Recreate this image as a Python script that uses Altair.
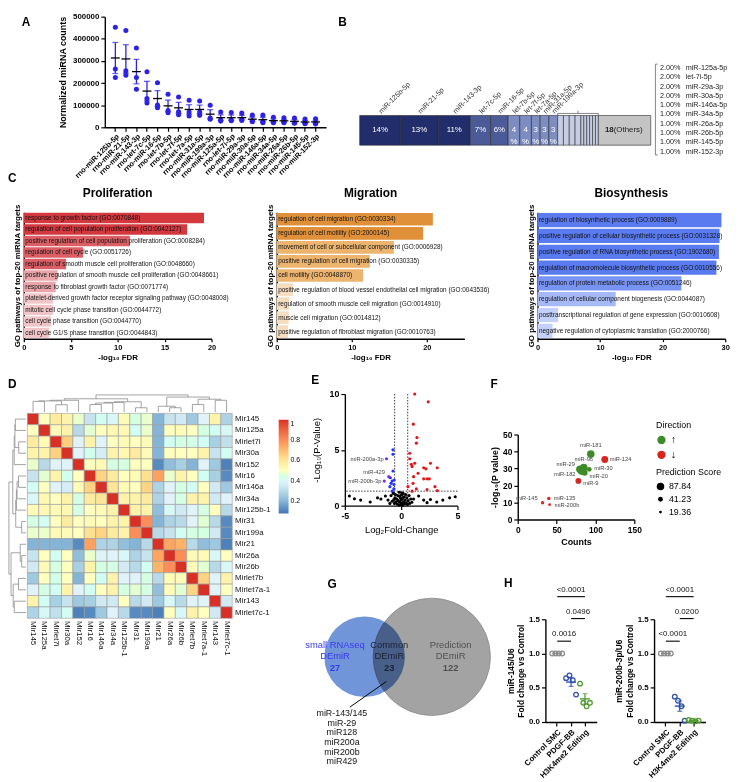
import math
import altair as alt
import numpy as np
import pandas as pd

FONT = "Liberation Sans"

# ---------------- Panel A data ----------------
a_mirs = ["rno-miR-125b-5p", "rno-miR-21-5p", "rno-miR-143-3p", "rno-let-7c-5p", "rno-miR-16-5p",
          "rno-let-7b-5p", "rno-let-7f-5p", "rno-let-7a-5p", "rno-miR-31a-5p", "rno-miR-199a-3p",
          "rno-miR-125a-5p", "rno-let-7i-5p", "rno-miR-29a-3p", "rno-miR-30a-5p", "rno-miR-146a-5p",
          "rno-miR-34a-5p", "rno-miR-26a-5p", "rno-miR-26b-5p", "rno-miR-145-5p", "rno-miR-152-3p"]
a_rep1 = [452000, 437000, 358000, 251000, 201000, 149000, 137000, 122000, 119000, 100000,
          69000, 67000, 64000, 55000, 55000, 45000, 43000, 42000, 37000, 39000]
a_rep2 = [263000, 255000, 225000, 130000, 101000, 76000, 70000, 69000, 69000, 42000,
          34000, 33000, 36000, 30000, 27000, 24000, 24000, 21000, 19000, 19000]
a_rep3 = [225000, 235000, 172000, 110000, 88000, 66000, 57000, 51000, 54000, 36000,
          28000, 30000, 31000, 25000, 21000, 21000, 21000, 18000, 16000, 15000]

# ---------------- Panel B data ----------------
b_top_names = ["miR-125b-5p", "miR-21-5p", "miR-143-3p", "let-7c-5p", "miR-16-5p",
               "let-7b-5p", "let-7f-5p", "let-7a-5p", "miR-31a-5p", "miR-199a-3p"]
b_top_pct = [14, 13, 11, 7, 6, 4, 4, 3, 3, 3]
b_small_names = ["miR-125a-5p", "let-7i-5p", "miR-29a-3p", "miR-30a-5p", "miR-146a-5p",
                 "miR-34a-5p", "miR-26a-5p", "miR-26b-5p", "miR-145-5p", "miR-152-3p"]
b_small_pct = [2, 2, 2, 2, 1, 1, 1, 1, 1, 1]
b_others_count = 18
b_others_pct = 18

# ---------------- Panel C data ----------------
c_prolif_terms = ["response to growth factor (GO:0070848)",
                  "regulation of cell population proliferation (GO:0042127)",
                  "positive regulation of cell population proliferation (GO:0008284)",
                  "regulation of cell cycle (GO:0051726)",
                  "regulation of smooth muscle cell proliferation (GO:0048660)",
                  "positive regulation of smooth muscle cell proliferation (GO:0048661)",
                  "response to fibroblast growth factor (GO:0071774)",
                  "platelet-derived growth factor receptor signaling pathway (GO:0048008)",
                  "mitotic cell cycle phase transition (GO:0044772)",
                  "cell cycle phase transition (GO:0044770)",
                  "cell cycle G1/S phase transition (GO:0044843)"]
c_prolif_vals = [19.2, 17.4, 11.3, 6.3, 4.5, 3.6, 3.4, 3.1, 3.1, 2.9, 2.7]
c_migr_terms = ["regulation of cell migration (GO:0030334)",
                "regulation of cell motility (GO:2000145)",
                "movement of cell or subcellular component (GO:0006928)",
                "positive regulation of cell migration (GO:0030335)",
                "cell motility (GO:0048870)",
                "positive regulation of blood vessel endothelial cell migration (GO:0043536)",
                "regulation of smooth muscle cell migration (GO:0014910)",
                "muscle cell migration (GO:0014812)",
                "positive regulation of fibroblast migration (GO:0010763)"]
c_migr_vals = [20.8, 19.5, 15.6, 12.4, 11.5, 2.2, 1.7, 1.6, 1.5]
c_bio_terms = ["regulation of biosynthetic process (GO:0009889)",
               "positive regulation of cellular biosynthetic process (GO:0031328)",
               "positive regulation of RNA biosynthetic process (GO:1902680)",
               "regulation of macromolecule biosynthetic process (GO:0010556)",
               "regulation of protein metabolic process (GO:0051246)",
               "regulation of cellular component biogenesis (GO:0044087)",
               "posttranscriptional regulation of gene expression (GO:0010608)",
               "negative regulation of cytoplasmic translation (GO:2000766)"]
c_bio_vals = [29.4, 29.1, 29.0, 28.6, 23.0, 12.5, 3.3, 2.4]

# ---------------- Panel D data ----------------
d_names = ["Mir145", "Mir125a", "Mirlet7i", "Mir30a", "Mir152", "Mir16", "Mir146a", "Mir34a",
           "Mir125b-1", "Mir31", "Mir199a", "Mir21", "Mir26a", "Mir26b", "Mirlet7b",
           "Mirlet7a-1", "Mir143", "Mirlet7c-1"]
d_corr = [
    [1, 0.5, 0.58, 0.55, 0.48, 0.33, 0.42, 0.4, 0.52, 0.45, 0.48, 0.2, 0.33, 0.35, 0.25, 0.38, 0.55, 0.28],
    [0.5, 1, 0.52, 0.55, 0.3, 0.47, 0.5, 0.53, 0.53, 0.42, 0.48, 0.2, 0.5, 0.52, 0.5, 0.45, 0.42, 0.4],
    [0.58, 0.52, 1, 0.66, 0.38, 0.55, 0.38, 0.5, 0.52, 0.5, 0.52, 0.2, 0.42, 0.45, 0.44, 0.42, 0.27, 0.32],
    [0.55, 0.55, 0.66, 1, 0.38, 0.43, 0.36, 0.55, 0.53, 0.58, 0.52, 0.2, 0.5, 0.5, 0.5, 0.55, 0.33, 0.42],
    [0.48, 0.3, 0.38, 0.38, 1, 0.5, 0.52, 0.45, 0.45, 0.5, 0.5, 0.12, 0.22, 0.27, 0.2, 0.38, 0.25, 0.1],
    [0.33, 0.47, 0.55, 0.43, 0.5, 1, 0.65, 0.58, 0.5, 0.52, 0.62, 0.76, 0.48, 0.55, 0.5, 0.42, 0.27, 0.12],
    [0.42, 0.5, 0.38, 0.36, 0.52, 0.65, 1, 0.6, 0.52, 0.5, 0.65, 0.28, 0.38, 0.45, 0.42, 0.5, 0.35, 0.25],
    [0.4, 0.53, 0.5, 0.55, 0.45, 0.58, 0.6, 1, 0.55, 0.55, 0.58, 0.28, 0.38, 0.45, 0.55, 0.55, 0.35, 0.38],
    [0.52, 0.53, 0.52, 0.53, 0.45, 0.5, 0.52, 0.55, 1, 0.55, 0.55, 0.22, 0.4, 0.35, 0.38, 0.45, 0.5, 0.3],
    [0.45, 0.42, 0.5, 0.58, 0.5, 0.52, 0.5, 0.55, 0.55, 1, 0.8, 0.2, 0.28, 0.3, 0.38, 0.47, 0.3, 0.12],
    [0.48, 0.48, 0.52, 0.52, 0.5, 0.62, 0.65, 0.58, 0.55, 0.8, 1, 0.3, 0.33, 0.42, 0.45, 0.45, 0.35, 0.12],
    [0.2, 0.2, 0.2, 0.2, 0.12, 0.76, 0.28, 0.28, 0.22, 0.2, 0.3, 1, 0.75, 0.72, 0.3, 0.22, 0.25, 0.1],
    [0.33, 0.5, 0.42, 0.5, 0.22, 0.48, 0.38, 0.38, 0.4, 0.28, 0.33, 0.75, 1, 0.8, 0.52, 0.52, 0.4, 0.5],
    [0.35, 0.52, 0.45, 0.5, 0.27, 0.55, 0.45, 0.45, 0.35, 0.3, 0.42, 0.72, 0.8, 1, 0.52, 0.47, 0.3, 0.4],
    [0.25, 0.5, 0.44, 0.5, 0.2, 0.5, 0.42, 0.55, 0.38, 0.38, 0.45, 0.3, 0.52, 0.52, 1, 0.65, 0.38, 0.55],
    [0.38, 0.45, 0.42, 0.55, 0.38, 0.42, 0.5, 0.55, 0.45, 0.47, 0.45, 0.22, 0.52, 0.47, 0.65, 1, 0.38, 0.5],
    [0.55, 0.42, 0.27, 0.33, 0.25, 0.27, 0.35, 0.35, 0.5, 0.3, 0.35, 0.25, 0.4, 0.3, 0.38, 0.38, 1, 0.35],
    [0.28, 0.4, 0.32, 0.42, 0.1, 0.12, 0.25, 0.38, 0.3, 0.12, 0.12, 0.1, 0.5, 0.4, 0.55, 0.5, 0.35, 1],
]
# dendrogram: (height, left, right), leaves are row indices
d_tree = (0.8,
          (0.62,
           (0.55, (0.52, (0.5, 0, 1), (0.34, 2, 3)), 4),
           (0.48, (0.45, (0.42, (0.35, 5, 6), 7), 8), (0.2, 9, 10))),
          (0.7,
           (0.27, 11, (0.2, 12, 13)),
           (0.6, (0.35, 14, 15), (0.55, 16, 17))))

# ---------------- Panel E data ----------------
e_up = [(1.2, 10.0), (2.4, 9.3), (1.08, 7.3), (1.4, 6.1), (1.35, 5.6), (0.76, 4.7), (0.76, 4.2),
        (2.6, 3.8), (0.9, 3.7), (1.2, 3.8), (0.97, 3.5), (2.0, 3.4), (2.2, 3.3), (3.2, 3.4),
        (1.5, 2.9), (2.0, 2.4), (2.3, 2.4), (2.5, 2.4), (1.05, 2.0), (1.1, 2.6), (0.6, 1.7),
        (1.35, 1.5), (3.0, 1.7), (2.3, 1.45), (3.2, 1.35), (0.97, 1.3)]
e_down = [(-0.73, 5.0), (-0.73, 4.6), (-0.73, 3.1), (-0.96, 2.5), (-0.8, 2.2), (-0.62, 2.3),
          (-0.65, 1.9), (-1.0, 1.7), (-0.65, 1.5), (-0.8, 1.3), (-0.9, 2.0)]
e_labeled = [("miR-200a-3p", -1.3, 4.2), ("miR-429", -1.1, 2.6), ("miR-200b-3p", -1.5, 2.2)]
e_ns = [(-4.6, 0.86), (-4.15, 0.62), (-3.6, 0.5), (-2.75, 0.33), (-2.1, 0.7), (-1.8, 0.6),
        (-1.4, 0.86), (-1.17, 0.5), (1.1, 0.6), (1.55, 0.86), (2.0, 0.5), (2.6, 0.55),
        (3.16, 0.33), (3.7, 0.5), (4.3, 0.7), (4.8, 0.8), (2.3, 0.27), (-0.9, 0.9), (-0.8, 0.4),
        (-0.7, 1.1), (-0.6, 0.2), (-0.55, 0.7), (-0.5, 1.0), (-0.45, 0.35), (-0.4, 0.6),
        (-0.35, 0.15), (-0.3, 0.9), (-0.25, 0.45), (-0.2, 0.05), (-0.18, 1.2), (-0.12, 0.3),
        (-0.08, 0.7), (-0.05, 0.1), (0.0, 0.5), (0.03, 0.95), (0.06, 0.2), (0.1, 0.6),
        (0.14, 0.05), (0.18, 1.1), (0.22, 0.35), (0.27, 0.8), (0.3, 0.15), (0.35, 0.5),
        (0.4, 1.0), (0.45, 0.25), (0.5, 0.7), (0.55, 0.1), (0.62, 0.45), (0.7, 0.9),
        (0.75, 0.2), (0.85, 0.6), (0.95, 0.3), (-1.0, 0.2), (-0.65, 0.55), (0.2, 0.75),
        (-0.15, 0.85), (0.05, 1.15)]
e_fc_cut = [-0.58, 0.58]
e_p_cut = 1.3

# ---------------- Panel F data ----------------
f_mirs = ["miR-181", "miR-124", "miR-96", "miR-29", "miR-182", "miR-30", "miR-20", "miR-9",
          "miR-145", "miR-135", "miR-200b"]
f_counts = [94, 112, 85, 80, 82, 92, 86, 78, 32, 40, 41]
f_logp = [38.5, 35.3, 30.6, 29.5, 28.5, 29.5, 27.5, 22.7, 9.9, 12.4, 8.7]
f_dir = ["up", "down", "up", "up", "up", "up", "up", "down", "down", "down", "down"]
f_score = [87.84, 75.0, 87.84, 87.84, 87.84, 41.23, 60.0, 55.0, 25.0, 25.0, 19.36]
f_legend_scores = [87.84, 41.23, 19.36]

# ---------------- Panel G data ----------------
g_set_titles = ["small RNAseq", "Common", "Prediction"]
g_counts = [27, 23, 122]
g_common_list = ["miR-143/145", "miR-29", "miR128", "miR200a", "miR200b", "miR429"]

# ---------------- Panel H data ----------------
h_groups = ["Control SMC", "PDGF-BB", "H3K4me2 Editing"]
h1_vals = [[1.0, 1.0, 1.0, 1.0], [0.64, 0.68, 0.61, 0.40], [0.56, 0.28, 0.23, 0.28]]
h2_vals = [[1.0, 1.0, 1.0, 1.0], [0.37, 0.31, 0.23, 0.02], [0.03, 0.02, 0.01, 0.02]]
h1_p = ["<0.0001", "0.0496", "0.0016"]
h2_p = ["<0.0001", "0.0200", "<0.0001"]


# ================= helpers =================
def left_letter(t, offset):
    return alt.TitleParams(t, orient="left", anchor="end", angle=0, baseline="top", align="right",
                           offset=offset, fontSize=12, fontWeight="bold", frame="group")


def top_letter(t, dx=0, offset=3):
    return alt.TitleParams(t, anchor="start", frame="bounds", fontSize=12, fontWeight="bold",
                           dx=dx, offset=offset)


one = pd.DataFrame({"k": [0]})


def spacer(w=1, h=1):
    return alt.Chart(one).mark_rule(opacity=0, strokeWidth=0.1).encode(
        x=alt.value(0), x2=alt.value(0), y=alt.value(0), y2=alt.value(1)).properties(width=w, height=h)


AX = dict(domainColor="black", tickColor="black", domainWidth=1.4, tickWidth=1.2, grid=False,
          labelColor="black", titleColor="black")

# ================= Panel A =================
dfA = pd.DataFrame({"mir": a_mirs * 3, "count": a_rep1 + a_rep2 + a_rep3})
A_BLUE = "#2b22e6"
xA = alt.X("mir:N", sort=a_mirs, title=None, scale=alt.Scale(paddingInner=0, paddingOuter=0.5),
           axis=alt.Axis(labelAngle=-45, labelFontSize=7.5, labelFontWeight="bold", tickSize=4,
                         labelPadding=1, **AX))
yscA = alt.Scale(domain=[0, 500000], nice=False)
yaxA = alt.Axis(values=[0, 100000, 200000, 300000, 400000, 500000], format="d", labelFontSize=8,
                labelFontWeight="bold", titleFontSize=9, titleFontWeight="bold", tickSize=4,
                titlePadding=5, **AX)
TA = "Normalized miRNA counts"
errA = alt.Chart(dfA).mark_errorbar(extent="stderr", color=A_BLUE, thickness=1.3,
                                    ticks={"size": 6}).encode(
    x=xA, y=alt.Y("count:Q", scale=yscA, axis=yaxA, title=TA))
ptsA = alt.Chart(dfA).mark_circle(size=26, color=A_BLUE, opacity=1).encode(
    x=xA, y=alt.Y("count:Q", scale=yscA, axis=yaxA, title=TA))
meanA = alt.Chart(dfA).mark_tick(color="black", thickness=1.3, size=9).encode(
    x=xA, y=alt.Y("mean(count):Q", scale=yscA, axis=yaxA, title=TA))
chartA = alt.layer(errA, ptsA, meanA).properties(width=224, height=112,
                                                title=left_letter("A", 20))

# ================= Panel B =================
seg_pct = b_top_pct + b_small_pct + [b_others_pct]
starts = np.concatenate([[0], np.cumsum(seg_pct)[:-1]]).astype(float)
ends = starts + np.array(seg_pct, dtype=float)
n_top, n_small = len(b_top_pct), len(b_small_pct)
tiers = [("big" if p >= 10 else ("mid" if p >= 5 else "low")) for p in b_top_pct]
tiers += ["small"] * n_small + ["others"]
dfB = pd.DataFrame({"start": starts, "end": ends, "tier": tiers})
dfB["mid"] = (dfB["start"] + dfB["end"]) / 2
xscB = alt.Scale(domain=[0, 131], nice=False, zero=False)
yscB = alt.Scale(domain=[-0.33, 4.33], nice=False, zero=False)

rectB = alt.Chart(dfB).mark_rect(stroke="#2b2b2b", strokeWidth=0.6).encode(
    x=alt.X("start:Q", scale=xscB, axis=None), x2="end:Q",
    y=alt.YDatum(0, scale=yscB, axis=None), y2=alt.Y2Datum(1),
    color=alt.Color("tier:N", scale=alt.Scale(domain=["big", "mid", "low", "small", "others"],
                                              range=["#222d6b", "#4a5b98", "#7d8dc2", "#c6cde2", "#c4c4c4"]),
                    legend=None))
dfBt = dfB.iloc[:n_top].copy()
dfBt["lab"] = [f"{p}%" if p >= 5 else f"{p}\n%" for p in b_top_pct]
dfBt["name"] = b_top_names
pctB = alt.Chart(dfBt).mark_text(color="white", fontSize=8, lineBreak="\n", baseline="middle",
                                 lineHeight=12).encode(
    x=alt.X("mid:Q", scale=xscB, axis=None), y=alt.YDatum(0.5, scale=yscB, axis=None), text="lab:N")
nameB = alt.Chart(dfBt).mark_text(angle=315, align="left", baseline="middle", fontSize=7.2,
                                  color="#333").encode(
    x=alt.X("mid:Q", scale=xscB, axis=None), y=alt.YDatum(1.1, scale=yscB, axis=None), text="name:N")
dfBo = pd.DataFrame({"mid": [dfB["mid"].iloc[-1]], "n": [str(b_others_count)], "lab": ["(Others)"]})
othN = alt.Chart(dfBo).mark_text(align="right", dx=-11, fontSize=8, fontWeight="bold",
                                 color="#222").encode(
    x=alt.X("mid:Q", scale=xscB, axis=None), y=alt.YDatum(0.5, scale=yscB, axis=None), text="n:N")
othL = alt.Chart(dfBo).mark_text(align="left", dx=-11, fontSize=8, color="#222").encode(
    x=alt.X("mid:Q", scale=xscB, axis=None), y=alt.YDatum(0.5, scale=yscB, axis=None), text="lab:N")
s0, s1 = starts[n_top], starts[n_top + n_small]
dfBr = pd.DataFrame({"x": [s0, s0, s1, (s0 + s1) / 2], "x2": [s1, s0, s1, (s0 + s1) / 2],
                     "y": [1.07, 1.0, 1.0, 1.07], "y2": [1.07, 1.07, 1.07, 1.16]})
brB = alt.Chart(dfBr).mark_rule(color="#666", strokeWidth=0.8).encode(
    x=alt.X("x:Q", scale=xscB, axis=None), x2="x2:Q",
    y=alt.Y("y:Q", scale=yscB, axis=None), y2="y2:Q")
dfL = pd.DataFrame({"p": [f"{p:.2f}%" for p in b_small_pct], "name": b_small_names,
                    "y": [2.6 - i * 0.313 for i in range(n_small)]})
listP = alt.Chart(dfL).mark_text(align="left", baseline="middle", fontSize=7.3, color="#222").encode(
    x=alt.XDatum(103.2, scale=xscB, axis=None), y=alt.Y("y:Q", scale=yscB, axis=None), text="p:N")
listN = alt.Chart(dfL).mark_text(align="left", baseline="middle", fontSize=7.3, color="#222").encode(
    x=alt.XDatum(112.0, scale=xscB, axis=None), y=alt.Y("y:Q", scale=yscB, axis=None), text="name:N")
dfLb = pd.DataFrame({"x": [101.6, 101.6, 101.6], "x2": [101.6, 102.4, 102.4],
                     "y": [2.73, 2.73, -0.33], "y2": [-0.33, 2.73, -0.33]})
listBr = alt.Chart(dfLb).mark_rule(color="#666", strokeWidth=0.8).encode(
    x=alt.X("x:Q", scale=xscB, axis=None), x2="x2:Q",
    y=alt.Y("y:Q", scale=yscB, axis=None), y2="y2:Q")
chartB = alt.layer(rectB, pctB, nameB, othN, othL, brB, listP, listN, listBr).properties(
    width=386, height=140, title=left_letter("B", 4))


# ================= Panel C =================
def go_panel(terms, vals, title, xmax, xvals, thresholds, colors):
    df = pd.DataFrame({"term": terms, "v": vals})
    y = alt.Y("term:N", sort=terms, title="GO pathways of top-20 miRNA targets",
              scale=alt.Scale(paddingInner=0.1, paddingOuter=0.05),
              axis=alt.Axis(labels=False, ticks=False, titleFontSize=8, titleFontWeight="bold",
                            titlePadding=2, **AX))
    x = alt.X("v:Q", scale=alt.Scale(domain=[0, xmax], nice=False), title="-log₁₀ FDR",
              axis=alt.Axis(values=xvals, labelFontSize=7.5, labelFontWeight="bold", titleFontSize=8,
                            titleFontWeight="bold", tickSize=3, labelFlush=False, titlePadding=3, **AX))
    bars = alt.Chart(df).mark_bar().encode(
        x=x, y=y,
        color=alt.Color("v:Q", scale=alt.Scale(type="threshold", domain=thresholds, range=colors),
                        legend=None))
    txt = alt.Chart(df).mark_text(align="left", dx=1.5, fontSize=6.5, color="#111").encode(
        x=alt.XDatum(0), y=y, text="term:N")
    return alt.layer(bars, txt).properties(
        width=190, height=128, title=alt.TitleParams(title, fontSize=12, fontWeight="bold", offset=4))


C1 = go_panel(c_prolif_terms, c_prolif_vals, "Proliferation", 20, [0, 5, 10, 15, 20],
              [3.2, 4, 17], ["#f1c5c8", "#e9a5a9", "#db5e64", "#d2383e"])
C2 = go_panel(c_migr_terms, c_migr_vals, "Migration", 25, [0, 5, 10, 15, 20, 25],
              [5, 19], ["#f6ddbf", "#ebb46f", "#df9039"])
C3 = go_panel(c_bio_terms, c_bio_vals, "Biosynthesis", 30, [0, 10, 20, 30],
              [5, 20, 25], ["#c3d0f9", "#a6b9f7", "#7894f3", "#5a7bf0"])

# ================= Panel D =================
n = len(d_names)
dfD = pd.DataFrame([{"r0": i, "r1": i + 1, "c0": j, "c1": j + 1, "v": d_corr[i][j]}
                    for i in range(n) for j in range(n)])
dmin = -1.7
xscD = alt.Scale(domain=[dmin, n], nice=False, zero=False)
yscD = alt.Scale(domain=[dmin, n], nice=False, zero=False, reverse=True)
heat = alt.Chart(dfD).mark_rect(stroke="#9a9a9a", strokeWidth=0.6).encode(
    x=alt.X("c0:Q", scale=xscD, axis=None), x2="c1:Q",
    y=alt.Y("r0:Q", scale=yscD, axis=None), y2="r1:Q",
    color=alt.Color("v:Q", scale=alt.Scale(domain=[0.08, 0.22, 0.38, 0.5, 0.62, 0.8, 1.0],
                                           range=["#4575b4", "#91bfdb", "#e0f3f8", "#ffffbf",
                                                  "#fee090", "#fc8d59", "#d73027"]),
                    legend=alt.Legend(orient="none", legendX=274, legendY=26, direction="vertical",
                                      gradientLength=95, gradientThickness=10, title=None,
                                      values=[0.2, 0.4, 0.6, 0.8, 1.0], labelFontSize=7,
                                      format=".1~f", gradientStrokeWidth=0)))
dfDn = pd.DataFrame({"name": d_names, "pos": [i + 0.5 for i in range(n)]})
rowLab = alt.Chart(dfDn).mark_text(align="left", baseline="middle", fontSize=8, color="#111").encode(
    x=alt.XDatum(n + 0.25, scale=xscD, axis=None), y=alt.Y("pos:Q", scale=yscD, axis=None), text="name:N")
colLab = alt.Chart(dfDn).mark_text(align="left", baseline="middle", angle=90, fontSize=8,
                                   color="#111").encode(
    x=alt.X("pos:Q", scale=xscD, axis=None), y=alt.YDatum(n + 0.25, scale=yscD, axis=None), text="name:N")


def dendro(node):
    if isinstance(node, int):
        return node + 0.5, 0.0, []
    h, l, r = node
    pl, hl, sl = dendro(l)
    pr, hr, sr = dendro(r)
    segs = sl + sr + [(pl, hl, pl, h), (pr, hr, pr, h), (pl, h, pr, h)]
    return (pl + pr) / 2, h, segs


_, hroot, dsegs = dendro(d_tree)


def hc(h):
    return -0.12 - h / hroot * 1.5


dfTop = pd.DataFrame({"x": [s[0] for s in dsegs], "x2": [s[2] for s in dsegs],
                      "y": [hc(s[1]) for s in dsegs], "y2": [hc(s[3]) for s in dsegs]})
dfLeft = pd.DataFrame({"x": [hc(s[1]) for s in dsegs], "x2": [hc(s[3]) for s in dsegs],
                       "y": [s[0] for s in dsegs], "y2": [s[2] for s in dsegs]})
topD = alt.Chart(dfTop).mark_rule(color="#8a8a8a", strokeWidth=0.8).encode(
    x=alt.X("x:Q", scale=xscD, axis=None), x2="x2:Q", y=alt.Y("y:Q", scale=yscD, axis=None), y2="y2:Q")
leftD = alt.Chart(dfLeft).mark_rule(color="#8a8a8a", strokeWidth=0.8).encode(
    x=alt.X("x:Q", scale=xscD, axis=None), x2="x2:Q", y=alt.Y("y:Q", scale=yscD, axis=None), y2="y2:Q")
chartD = alt.layer(heat, topD, leftD, rowLab, colLab).properties(width=227, height=227,
                                                                 title=top_letter("D"))

# ================= Panel E =================
rowsE = ([{"lfc": a, "nlp": b, "cls": "up"} for a, b in e_up] +
         [{"lfc": a, "nlp": b, "cls": "down"} for a, b in e_down] +
         [{"lfc": a, "nlp": b, "cls": "lab"} for _, a, b in e_labeled] +
         [{"lfc": a, "nlp": b, "cls": "ns"} for a, b in e_ns])
dfE = pd.DataFrame(rowsE)
xscE = alt.Scale(domain=[-5, 5], nice=False)
yscE = alt.Scale(domain=[0, 10], nice=False)
xaxE = alt.Axis(values=[-5, 0, 5], labelFontSize=9, labelFontWeight="bold", titleFontSize=9.5,
                titleFontWeight="normal", tickSize=4, labelFlush=False,
                labelExpr="replace(datum.label, '−', '-')", **AX)
yaxE = alt.Axis(values=[0, 5, 10], labelFontSize=9, labelFontWeight="bold", titleFontSize=9.5,
                titleFontWeight="normal", tickSize=4, titlePadding=8, **AX)
xE = alt.X("lfc:Q", scale=xscE, title="Log₂Fold-Change", axis=xaxE)
yE = alt.Y("nlp:Q", scale=yscE, title="-Log₁₀(P-Value)", axis=yaxE)
ptsE = alt.Chart(dfE).mark_circle(size=10, opacity=1).encode(
    x=xE, y=yE,
    color=alt.Color("cls:N", scale=alt.Scale(domain=["up", "down", "lab", "ns"],
                                             range=["#e3161c", "#2233ff", "#7a2be2", "#000000"]),
                    legend=None))
vlE = alt.Chart(pd.DataFrame({"lfc": e_fc_cut})).mark_rule(strokeDash=[1.5, 1.5], color="#222",
                                                           strokeWidth=0.9).encode(x=xE)
hlE = alt.Chart(one).mark_rule(strokeDash=[1.5, 1.5], color="#222", strokeWidth=0.9).encode(
    y=alt.YDatum(e_p_cut, scale=yscE, axis=yaxE, title="-Log₁₀(P-Value)"))
dfEl = pd.DataFrame({"t": [t for t, _, _ in e_labeled], "lfc": [a for _, a, _ in e_labeled],
                     "nlp": [b for _, _, b in e_labeled]})
labE1 = alt.Chart(dfEl[dfEl["t"] != "miR-429"]).mark_text(align="right", dx=-3, dy=0, fontSize=5.8,
                                                          color="#444").encode(x=xE, y=yE, text="t:N")
labE2 = alt.Chart(dfEl[dfEl["t"] == "miR-429"]).mark_text(align="right", dx=-4, dy=-5, fontSize=5.8,
                                                          color="#444").encode(x=xE, y=yE, text="t:N")
chartE = alt.layer(vlE, hlE, ptsE, labE1, labE2).properties(width=114, height=113, title=top_letter("E"))

# ================= Panel F =================
dfF = pd.DataFrame({"mir": f_mirs, "cnt": f_counts, "lp": f_logp, "dir": f_dir, "score": f_score})
xscF = alt.Scale(domain=[0, 150], nice=False)
yscF = alt.Scale(domain=[0, 50], nice=False)
xF = alt.X("cnt:Q", scale=xscF, title="Counts",
           axis=alt.Axis(values=[0, 50, 100, 150], labelFontSize=8.5, labelFontWeight="bold",
                         titleFontSize=9, titleFontWeight="bold", tickSize=4, labelFlush=False,
                         labelOverlap=False, **AX))
yF = alt.Y("lp:Q", scale=yscF, title="-log₁₀(P value)",
           axis=alt.Axis(values=[0, 10, 20, 30, 40, 50], labelFontSize=8.5, labelFontWeight="bold",
                         titleFontSize=9, titleFontWeight="bold", tickSize=4, labelOverlap=False,
                         titlePadding=3, **AX))
ptsF = alt.Chart(dfF).mark_circle(opacity=1).encode(
    x=xF, y=yF,
    color=alt.Color("dir:N", scale=alt.Scale(domain=["up", "down"], range=["#3d8b27", "#d7261e"]),
                    legend=alt.Legend(orient="none", legendX=140, legendY=-14, title="Direction",
                                      titleFontSize=9, titleFontWeight="normal", labelFontSize=11,
                                      labelExpr="datum.label == 'up' ? '↑' : '↓'", symbolSize=70,
                                      symbolType="circle", rowPadding=3)),
    size=alt.Size("score:Q", scale=alt.Scale(domain=[19.36, 87.84], range=[8, 58]),
                  legend=alt.Legend(orient="none", legendX=140, legendY=34, title="Prediction Score",
                                    titleFontSize=9, titleFontWeight="normal", labelFontSize=9,
                                    format=".2f", values=f_legend_scores, symbolFillColor="black",
                                    symbolStrokeWidth=0, symbolType="circle", rowPadding=3)))


def flab(names, **kw):
    d = dfF[dfF["mir"].isin(names)]
    return alt.Chart(d).mark_text(fontSize=5.8, color="#444", **kw).encode(x=xF, y=yF, text="mir:N")


labF = [flab(["miR-124", "miR-135", "miR-200b"], align="left", dx=5),
        flab(["miR-30"], align="left", dx=5, dy=-1),
        flab(["miR-9"], align="left", dx=5, dy=2),
        flab(["miR-20"], align="left", dx=5, dy=3),
        flab(["miR-29", "miR-145"], align="right", dx=-5, dy=-5),
        flab(["miR-182"], align="right", dx=-6, dy=3),
        flab(["miR-181", "miR-96"], align="center", dy=-9)]
chartF = alt.layer(ptsF, *labF).properties(width=118, height=86)
Fcol = alt.vconcat(spacer(), chartF, spacing=26, title=top_letter("F"))

# ================= Panel G =================
# G content coordinates in px; plot origin sits at content (40, 36)
xscG = alt.Scale(domain=[40, 195], nice=False, zero=False)
yscG = alt.Scale(domain=[36, 185], nice=False, zero=False, reverse=True)
cx_small, cx_pred, cy, r_small, r_pred = 60, 128, 74, 46, 67
grayG = alt.Chart(one).mark_circle(opacity=1, color="#a3a3a3", stroke="#8a8a8a", strokeWidth=0.8,
                                   size=math.pi * r_pred ** 2).encode(
    x=alt.XDatum(cx_pred, scale=xscG, axis=None), y=alt.YDatum(cy, scale=yscG, axis=None))
blueG = alt.Chart(one).mark_circle(opacity=1, color="#7095d8", blend="multiply",
                                   size=math.pi * r_small ** 2).encode(
    x=alt.XDatum(cx_small, scale=xscG, axis=None), y=alt.YDatum(cy, scale=yscG, axis=None))
dfGt = pd.DataFrame({"t": g_set_titles, "n": [str(c) for c in g_counts],
                     "x": [30, 85, 147], "col": ["s", "c", "p"]})
gcol = alt.Color("col:N", scale=alt.Scale(domain=["s", "c", "p"], range=["#3a3af0", "#1c2233", "#505050"]),
                 legend=None)
gx = alt.X("x:Q", scale=xscG, axis=None)
gt1 = alt.Chart(dfGt).mark_text(fontSize=9.5).encode(
    x=gx, y=alt.YDatum(62, scale=yscG, axis=None), text="t:N", color=gcol)
gt2 = alt.Chart(dfGt).mark_text(fontSize=9.5).encode(
    x=gx, y=alt.YDatum(73.5, scale=yscG, axis=None), text=alt.value("DEmiR"), color=gcol)
gt3 = alt.Chart(dfGt).mark_text(fontSize=9.5, fontWeight="bold").encode(
    x=gx, y=alt.YDatum(85, scale=yscG, axis=None), text="n:N", color=gcol)
lineG = alt.Chart(one).mark_rule(color="black", strokeWidth=1).encode(
    x=alt.XDatum(82, scale=xscG, axis=None), x2=alt.X2Datum(45),
    y=alt.YDatum(99, scale=yscG, axis=None), y2=alt.Y2Datum(125))
dfGl = pd.DataFrame({"t": g_common_list, "y": [131 + 9.8 * i for i in range(len(g_common_list))]})
listG = alt.Chart(dfGl).mark_text(fontSize=9, color="#111").encode(
    x=alt.XDatum(37, scale=xscG, axis=None), y=alt.Y("y:Q", scale=yscG, axis=None), text="t:N")
letG = alt.Chart(one).mark_text(text="G", fontSize=12, fontWeight="bold", color="black").encode(
    x=alt.XDatum(27, scale=xscG, axis=None), y=alt.YDatum(0, scale=yscG, axis=None))
chartG = alt.layer(grayG, blueG, gt1, gt2, gt3, lineG, listG, letG).properties(width=155, height=149)


# ================= Panel H =================
def h_panel(ytitle, vals, pvals, letter=None):
    df = pd.DataFrame([{"g": g, "rep": k, "v": v} for g, vv in zip(h_groups, vals)
                       for k, v in enumerate(vv)])
    xsc = alt.Scale(domain=h_groups, paddingInner=0, paddingOuter=0.35)
    xax = alt.Axis(labelAngle=-45, labelFontSize=8, labelFontWeight="bold", tickSize=4, **AX)
    xH = alt.X("g:N", sort=h_groups, title=None, scale=xsc, axis=xax)
    ysc = alt.Scale(domain=[0, 1.5], nice=False)
    yax = alt.Axis(values=[0, 0.5, 1.0, 1.5], format=".1f", labelFontSize=8, labelFontWeight="bold",
                   titleFontSize=8.5, titleFontWeight="bold", tickSize=4, titlePadding=3, **AX)
    yt = [ytitle, "Fold change vs Control"]
    yH = alt.Y("v:Q", scale=ysc, axis=yax, title=yt)
    col = alt.Color("g:N", scale=alt.Scale(domain=h_groups, range=["#8a8a8a", "#2e4fae", "#4e9a2e"]),
                    legend=None)
    pts = alt.Chart(df).mark_point(filled=False, size=22, strokeWidth=1.3, opacity=1).encode(
        x=xH, y=yH, color=col, xOffset=alt.XOffset("rep:N", scale=alt.Scale(paddingOuter=0.6)))
    err = alt.Chart(df).mark_errorbar(extent="stderr", thickness=1.2, ticks={"size": 5}).encode(
        x=xH, y=yH, color=col)
    mn = alt.Chart(df).mark_tick(thickness=1.4, size=10).encode(
        x=xH, y=alt.Y("mean(v):Q", scale=ysc, axis=yax, title=yt), color=col)
    dfb = pd.DataFrame({"g1": [h_groups[0], h_groups[1], h_groups[0]],
                        "g2": [h_groups[2], h_groups[2], h_groups[1]],
                        "lvl": [1.83, 1.51, 1.18], "p": pvals})
    yl = alt.Y("lvl:Q", scale=ysc, axis=yax, title=yt)
    xg1 = alt.X("g1:N", scale=xsc, sort=h_groups, axis=xax, title=None)
    rules = alt.Chart(dfb).mark_rule(color="black", strokeWidth=1.1).encode(x=xg1, x2="g2:N", y=yl)
    step = 52 / (3 + 2 * 0.35)
    t_wide = alt.Chart(dfb.iloc[[0]]).mark_text(fontSize=8, dy=-7, dx=-step, color="#111").encode(
        x=alt.X("g2:N", scale=xsc, sort=h_groups, axis=xax, title=None), y=yl, text="p:N")
    t_adj = alt.Chart(dfb.iloc[[1, 2]]).mark_text(fontSize=8, dy=-7, dx=step / 2, color="#111").encode(
        x=xg1, y=yl, text="p:N")
    layers = [err, pts, mn, rules, t_wide, t_adj]
    if letter:
        layers.append(alt.Chart(one).mark_text(text=letter, fontSize=12, fontWeight="bold", align="left",
                                               baseline="top", color="black").encode(
            x=alt.value(-42), y=alt.value(-42)))
    return alt.layer(*layers).properties(width=52, height=104)


H1 = h_panel("miR-145/U6", h1_vals, h1_p, letter="H")
H2 = h_panel("miR-200b-3p/U6", h2_vals, h2_p)


# ================= layout =================
def ind(c):
    return c.resolve_scale(color="independent", size="independent").resolve_legend(
        color="independent", size="independent")


row1 = ind(alt.hconcat(spacer(), chartA, chartB, spacing=12))
Cgroup = ind(alt.hconcat(C1, C2, C3, spacing=37))
row2 = ind(alt.hconcat(spacer(), Cgroup, spacing=4,
                       title=alt.TitleParams("C", anchor="start", fontSize=12, fontWeight="bold",
                                             offset=2, frame="bounds")))
EF = ind(alt.hconcat(chartE, ind(Fcol), spacing=30))
Hrow = ind(alt.hconcat(H1, H2, spacing=18))
GH = ind(alt.hconcat(chartG, Hrow, spacing=6))
right = ind(alt.vconcat(EF, GH, spacing=30))
row3 = ind(alt.hconcat(chartD, right, spacing=4))
top2 = ind(alt.vconcat(row1, row2, spacing=-8))
full = ind(alt.vconcat(top2, row3, spacing=12))

chart = full.properties(padding={"left": 0, "top": 0, "right": 0, "bottom": 0}).configure(
    font=FONT).configure_view(stroke=None).configure_axis(grid=False).configure_title(font=FONT)

chart.save("out.html", embed_options={"renderer": "svg", "actions": False})
